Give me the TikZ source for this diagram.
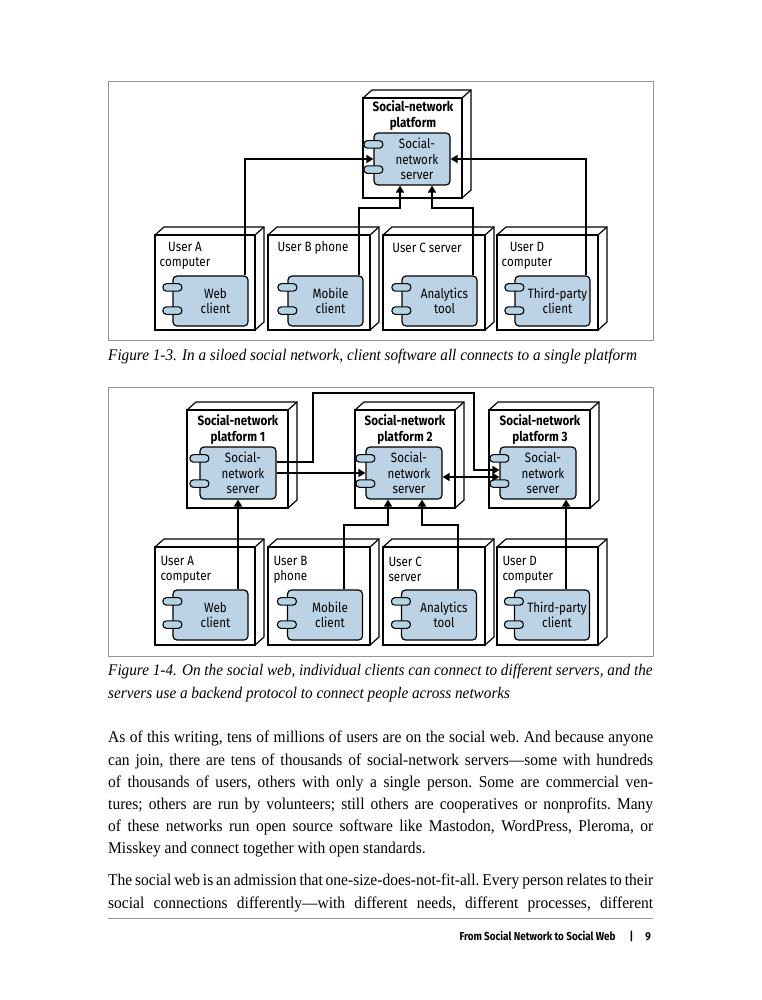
\documentclass[tikz,border=0pt]{standalone}
\usepackage{fontspec}
\setmainfont{Liberation Serif}[FakeStretch=0.94]
\newfontfamily\diagfont[FakeStretch=0.86]{Fira Sans}
\usetikzlibrary{calc,arrows.meta}

\definecolor{compblue}{RGB}{188,211,229}
\definecolor{tabblue}{RGB}{180,212,228}
\definecolor{framegray}{RGB}{150,150,150}

\tikzset{
  frame/.style={draw=framegray, line width=0.9pt},
  boxline/.style={line width=1.2pt, line join=miter},
  comp/.style={draw, fill=compblue, rounded corners=4pt, line width=1.2pt,
    minimum width=75pt, minimum height=50pt},
  srvcomp/.style={comp, minimum width=76pt, minimum height=52pt},
  tab/.style={draw, fill=tabblue, rounded corners=3.5pt, line width=1.1pt,
    minimum width=19pt, minimum height=7.5pt, inner sep=0pt},
  complbl/.style={align=center, xshift=5pt, font=\diagfont\fontsize{13.5}{15.5}\selectfont},
  title/.style={align=center, font=\diagfont\bfseries\fontsize{13.5}{16}\selectfont},
  userlbl/.style={align=left, font=\diagfont\fontsize{13.5}{15}\selectfont},
  link/.style={line width=1.9pt},
  arr/.style={link, -{Triangle[length=7pt,width=8pt]}},
  caption/.style={anchor=north west, align=left, inner sep=0pt,
    font=\itshape\fontsize{16.2}{22.5}\selectfont},
  body/.style={anchor=north west, text width=545pt, align=justify, inner sep=0pt,
    font=\frenchspacing\fontsize{16.5}{22.2}\selectfont},
}

% 3D device box: left, top, right, bottom
\newcommand{\devbox}[4]{%
  \draw[boxline, fill=white] (#1,#2) -- ++(9,-8) -- (#3+9,#2-8) -- (#3+9,#4-8) -- (#3,#4) -- cycle;
  \draw[boxline] (#3,#2) -- ++(9,-8);
  \draw[boxline, fill=white] (#1,#2) rectangle (#3,#4);
}
% two connector tabs on the left edge of a component
\newcommand{\comptabs}[1]{%
  \node[tab] (#1-t1) at ($(#1.north west)+(0,12)$) {};
  \node[tab] (#1-t2) at ($(#1.south west)+(0,-16)$) {};
}

\begin{document}
\begin{tikzpicture}[x=1pt, y=-1pt]
  \useasboundingbox[fill=white] (0,0) rectangle (761,1000);

  %% Figure 1-3
  \draw[frame] (108,81) rectangle (653,340);
  \devbox{363}{98}{462}{198}
  \node[title] (plat) at (413,116) {Social-network\\platform};
  \node[srvcomp, label={[complbl]center:{Social-\\network\\server}}] (srv) at (412,159) {};
  \comptabs{srv}

  \devbox{155}{235}{255}{330}
  \devbox{268}{235}{370}{330}
  \devbox{383}{235}{485}{330}
  \devbox{497}{235}{598}{330}
  \node[userlbl, align=center] (ua) at (185,256) {User A\\computer};
  \node[userlbl, align=center] (ub) at (313,248) {User B phone};
  \node[userlbl, align=center] (uc) at (427,248) {User C server};
  \node[userlbl, align=center] (ud) at (527,256) {User D\\computer};

  \node[comp, label={[complbl]center:{Web\\client}}] (webA) at (210.5,301) {};
  \node[comp, label={[complbl]center:{Mobile\\client}}] (mobB) at (325.5,301) {};
  \node[comp, label={[complbl]center:{Analytics\\tool}}] (anaC) at (439.5,301) {};
  \node[comp, label={[complbl]center:{Third-party\\client}}] (thdD) at (552.5,301) {};
  \comptabs{webA}
  \comptabs{mobB}
  \comptabs{anaC}
  \comptabs{thdD}

  \draw[arr] ($(webA.north east)+(-4,0)$) |- (srv.west);
  \draw[arr] ($(mobB.north east)+(-5,0)$) |- ($(srv.south)+(-12,22)$) -- ($(srv.south)+(-12,0)$);
  \draw[arr] ($(anaC.north east)+(-5,0)$) |- ($(srv.south)+(20,22)$) -- ($(srv.south)+(20,0)$);
  \draw[arr] ($(thdD.north east)+(-5,0)$) |- (srv.east);

  \node[caption] (cap1) at (108,349) {Figure 1-3. In a siloed social network, client software all connects to a single platform};

  %% Figure 1-4
  \draw[frame] (108,387) rectangle (653,656);
  \devbox{187}{410}{288}{508}
  \devbox{355}{410}{455}{508}
  \devbox{489}{410}{590}{508}
  \node[title] (plat1) at (238,430) {Social-network\\platform 1};
  \node[title] (plat2) at (405,430) {Social-network\\platform 2};
  \node[title] (plat3) at (540,430) {Social-network\\platform 3};
  \node[srvcomp, label={[complbl]center:{Social-\\network\\server}}] (srv1) at (238,473) {};
  \node[srvcomp, label={[complbl]center:{Social-\\network\\server}}] (srv2) at (404,473) {};
  \node[srvcomp, label={[complbl]center:{Social-\\network\\server}}] (srv3) at (538,473) {};
  \comptabs{srv1}
  \comptabs{srv2}
  \comptabs{srv3}

  \devbox{155}{547}{255}{645}
  \devbox{268}{547}{370}{645}
  \devbox{383}{547}{485}{645}
  \devbox{497}{547}{598}{645}
  \node[userlbl, anchor=north west] (ua2) at (157,553) {User A\\computer};
  \node[userlbl, anchor=north west] (ub2) at (270,553) {User B\\phone};
  \node[userlbl, anchor=north west] (uc2) at (385,553) {User C\\server};
  \node[userlbl, anchor=north west] (ud2) at (499,553) {User D\\computer};

  \node[comp, label={[complbl]center:{Web\\client}}] (webA2) at (210.5,615) {};
  \node[comp, label={[complbl]center:{Mobile\\client}}] (mobB2) at (325,615) {};
  \node[comp, label={[complbl]center:{Analytics\\tool}}] (anaC2) at (439,615) {};
  \node[comp, label={[complbl]center:{Third-party\\client}}] (thdD2) at (552,615) {};
  \comptabs{webA2}
  \comptabs{mobB2}
  \comptabs{anaC2}
  \comptabs{thdD2}

  \draw[arr] (srv1.east) -- (srv2.west);
  \draw[arr] ($(srv1.east)+(0,-11)$) -- ++(36,0) -- ++(0,-69) -| ($(srv3.west)+(-25,-3)$) -- ($(srv3.west)+(0,-3)$);
  \draw[link, {Triangle[length=7pt,width=8pt]}-{Triangle[length=7pt,width=8pt]}] ($(srv2.east)+(0,4)$) -- ($(srv3.west)+(0,4)$);
  \draw[arr] (srv1.south |- webA2.north) -- (srv1.south);
  \draw[arr] ($(mobB2.north east)+(-19,0)$) |- ($(srv2.south)+(-16,25)$) -- ($(srv2.south)+(-16,0)$);
  \draw[arr] ($(anaC2.north east)+(-19,0)$) |- ($(srv2.south)+(18,25)$) -- ($(srv2.south)+(18,0)$);
  \draw[arr] ($(thdD2.north east)+(-24,0)$) coordinate (dtop) -- (dtop |- srv3.south);

  \node[caption] (cap2) at (108,664) {Figure 1-4. On the social web, individual clients can connect to different servers, and the\\servers use a backend protocol to connect people across networks};

  %% running text
  \node[body] (para1) at (108,731) {As of this writing, tens of millions of users are on the social web. And because anyone\linebreak
    can join, there are tens of thousands of social-network servers---some with hundreds\linebreak
    of thousands of users, others with only a single person. Some are commercial ven-\linebreak
    tures; others are run by volunteers; still others are cooperatives or nonprofits. Many\linebreak
    of these networks run open source software like Mastodon, WordPress, Pleroma, or\linebreak
    Misskey and connect together with open standards.};
  \node[body] (para2) at (108,874) {\parfillskip=0pt The social web is an admission that one-size-does-not-fit-all. Every person relates to their\linebreak
    social connections differently---with different needs, different processes, different\par};

  %% footer
  \draw[draw=framegray, line width=0.9pt] (108,918) coordinate (rulel) -- (653,918) coordinate (ruler);
  \node[anchor=east, inner sep=0pt, font=\diagfont\bfseries\fontsize{11.5}{14}\selectfont] (foot) at (651,936)
    {From Social Network to Social Web\hspace{14pt}|\hspace{12pt}9};
\end{tikzpicture}
\end{document}
